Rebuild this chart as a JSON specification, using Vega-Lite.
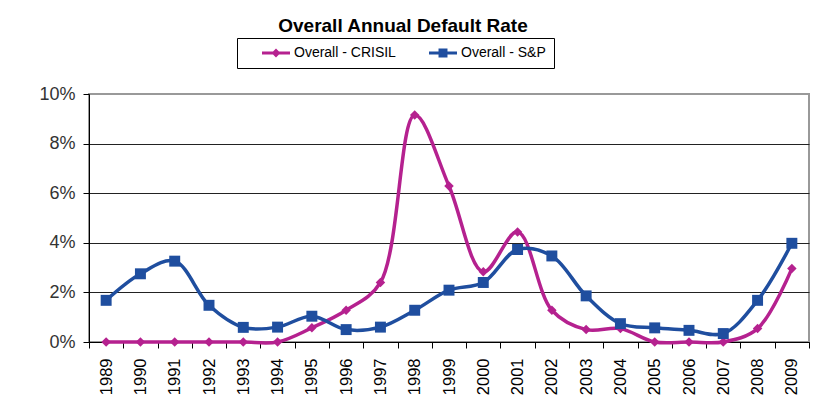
{
  "$schema": "https://vega.github.io/schema/vega-lite/v6.json",
  "autosize": {"type": "none"},
  "padding": {"left": 89, "top": 94, "right": 15, "bottom": 67},
  "width": 720,
  "height": 248,
  "background": "white",
  "title": {
    "text": "Overall Annual Default Rate",
    "font": "Liberation Sans",
    "fontSize": 19,
    "fontWeight": "bold",
    "color": "black",
    "anchor": "middle",
    "dx": -46,
    "offset": 2
  },
  "data": {
    "values": [
      {"year": "1989", "series": "Overall - CRISIL", "rate": 0},
      {"year": "1990", "series": "Overall - CRISIL", "rate": 0},
      {"year": "1991", "series": "Overall - CRISIL", "rate": 0},
      {"year": "1992", "series": "Overall - CRISIL", "rate": 0},
      {"year": "1993", "series": "Overall - CRISIL", "rate": 0},
      {"year": "1994", "series": "Overall - CRISIL", "rate": 0},
      {"year": "1995", "series": "Overall - CRISIL", "rate": 0.0057},
      {"year": "1996", "series": "Overall - CRISIL", "rate": 0.0128},
      {"year": "1997", "series": "Overall - CRISIL", "rate": 0.024},
      {"year": "1998", "series": "Overall - CRISIL", "rate": 0.0915},
      {"year": "1999", "series": "Overall - CRISIL", "rate": 0.0629},
      {"year": "2000", "series": "Overall - CRISIL", "rate": 0.0283},
      {"year": "2001", "series": "Overall - CRISIL", "rate": 0.0444},
      {"year": "2002", "series": "Overall - CRISIL", "rate": 0.0128},
      {"year": "2003", "series": "Overall - CRISIL", "rate": 0.005},
      {"year": "2004", "series": "Overall - CRISIL", "rate": 0.0054},
      {"year": "2005", "series": "Overall - CRISIL", "rate": 0},
      {"year": "2006", "series": "Overall - CRISIL", "rate": 0},
      {"year": "2007", "series": "Overall - CRISIL", "rate": 0},
      {"year": "2008", "series": "Overall - CRISIL", "rate": 0.0054},
      {"year": "2009", "series": "Overall - CRISIL", "rate": 0.0296},
      {"year": "1989", "series": "Overall - S&P", "rate": 0.0168},
      {"year": "1990", "series": "Overall - S&P", "rate": 0.0275},
      {"year": "1991", "series": "Overall - S&P", "rate": 0.0326},
      {"year": "1992", "series": "Overall - S&P", "rate": 0.0148},
      {"year": "1993", "series": "Overall - S&P", "rate": 0.0059},
      {"year": "1994", "series": "Overall - S&P", "rate": 0.006},
      {"year": "1995", "series": "Overall - S&P", "rate": 0.0104},
      {"year": "1996", "series": "Overall - S&P", "rate": 0.005},
      {"year": "1997", "series": "Overall - S&P", "rate": 0.006},
      {"year": "1998", "series": "Overall - S&P", "rate": 0.0128},
      {"year": "1999", "series": "Overall - S&P", "rate": 0.0209},
      {"year": "2000", "series": "Overall - S&P", "rate": 0.024},
      {"year": "2001", "series": "Overall - S&P", "rate": 0.0373},
      {"year": "2002", "series": "Overall - S&P", "rate": 0.0347},
      {"year": "2003", "series": "Overall - S&P", "rate": 0.0186},
      {"year": "2004", "series": "Overall - S&P", "rate": 0.0074},
      {"year": "2005", "series": "Overall - S&P", "rate": 0.0057},
      {"year": "2006", "series": "Overall - S&P", "rate": 0.0047},
      {"year": "2007", "series": "Overall - S&P", "rate": 0.0034},
      {"year": "2008", "series": "Overall - S&P", "rate": 0.0168},
      {"year": "2009", "series": "Overall - S&P", "rate": 0.0398}
    ]
  },
  "encoding": {
    "x": {
      "field": "year",
      "type": "ordinal",
      "scale": {"type": "band", "paddingInner": 0, "paddingOuter": 0},
      "axis": {
        "title": null,
        "labelAngle": 270,
        "labelFont": "Liberation Sans",
        "labelFontSize": 16.5,
        "labelColor": "black",
        "labelPadding": 10,
        "tickBand": "extent",
        "tickSize": 6,
        "tickColor": "black",
        "domainColor": "black",
        "grid": false
      }
    },
    "y": {
      "field": "rate",
      "type": "quantitative",
      "scale": {"domain": [0, 0.1], "nice": false},
      "axis": {
        "title": null,
        "values": [0, 0.02, 0.04, 0.06, 0.08, 0.1],
        "format": ".0%",
        "labelFont": "Liberation Sans",
        "labelFontSize": 18,
        "labelColor": "#333333",
        "labelPadding": 8,
        "tickSize": 6,
        "tickColor": "black",
        "domainColor": "black",
        "grid": true,
        "gridColor": {"condition": {"test": "datum.value >= 0.1", "value": "#999999"}, "value": "#222222"},
        "gridWidth": 1
      }
    },
    "color": {
      "field": "series",
      "type": "nominal",
      "scale": {"domain": ["Overall - CRISIL", "Overall - S&P"], "range": ["#B5218F", "#1F4E9F"]},
      "legend": {
        "title": null,
        "orient": "none",
        "legendX": 148,
        "legendY": -56,
        "direction": "horizontal",
        "columns": 2,
        "padding": 8,
        "strokeColor": "black",
        "fillColor": "white",
        "symbolSize": 196,
        "symbolOffset": 24,
        "labelOffset": 11,
        "columnPadding": 16,
        "labelFont": "Liberation Sans",
        "labelFontSize": 14,
        "labelColor": "black",
        "encode": {
          "symbols": {
            "update": {
              "shape": {"signal": "datum.value === 'Overall - CRISIL' ? 'M-2,-0.21H2V0.21H-2Z M0,-0.64L0.64,0L0,0.64L-0.64,0Z' : 'M-2,-0.21H2V0.21H-2Z M-0.64,-0.64H0.64V0.64H-0.64Z'"},
              "fill": {"scale": "color", "field": "value"},
              "fillOpacity": {"value": 1},
              "opacity": {"value": 1},
              "strokeWidth": {"value": 0},
              "size": {"value": 196}
            }
          }
        }
      }
    }
  },
  "layer": [
    {
      "mark": {"type": "line", "interpolate": "catmull-rom", "strokeWidth": 3.5}
    },
    {
      "transform": [{"filter": "datum.series === 'Overall - CRISIL'"}],
      "mark": {"type": "point", "filled": true, "opacity": 1, "shape": "diamond", "size": 90}
    },
    {
      "transform": [{"filter": "datum.series === 'Overall - S&P'"}],
      "mark": {"type": "point", "filled": true, "opacity": 1, "shape": "square", "size": 120}
    }
  ],
  "config": {
    "view": {"stroke": "#999999", "strokeWidth": 2},
    "font": "Liberation Sans"
  }
}
